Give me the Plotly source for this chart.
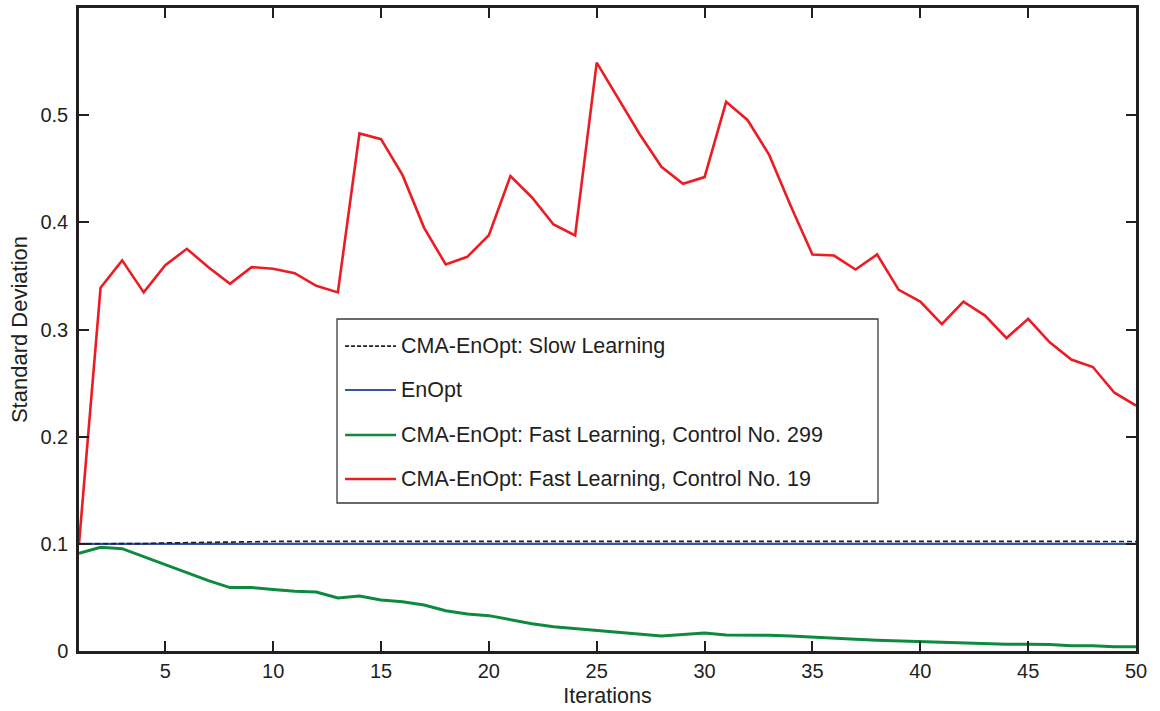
import plotly.graph_objects as go

# Iteration index
iterations = list(range(1, 51))

# Standard deviation of the control variables per iteration
slow_learning = [0.1000, 0.1000, 0.1000, 0.1002, 0.1008, 0.1012, 0.1016, 0.1018, 0.1020, 0.1022,
                 0.1023, 0.1023, 0.1023, 0.1023, 0.1023, 0.1023, 0.1023, 0.1023, 0.1023, 0.1023,
                 0.1023, 0.1023, 0.1023, 0.1023, 0.1023, 0.1023, 0.1023, 0.1023, 0.1023, 0.1023,
                 0.1023, 0.1023, 0.1023, 0.1023, 0.1023, 0.1023, 0.1023, 0.1024, 0.1027, 0.1028,
                 0.1026, 0.1023, 0.1022, 0.1022, 0.1022, 0.1022, 0.1022, 0.1022, 0.1022, 0.1022]

enopt = [0.1] * 50

fast_299 = [0.0911, 0.0967, 0.0955, 0.0880, 0.0802, 0.0730, 0.0656, 0.0592, 0.0592, 0.0573,
            0.0557, 0.0550, 0.0494, 0.0513, 0.0476, 0.0460, 0.0429, 0.0376, 0.0345, 0.0330,
            0.0289, 0.0255, 0.0227, 0.0209, 0.0193, 0.0177, 0.0162, 0.0141, 0.0153, 0.0168,
            0.0149, 0.0149, 0.0146, 0.0140, 0.0128, 0.0118, 0.0109, 0.0100, 0.0093, 0.0090,
            0.0081, 0.0072, 0.0062, 0.0062, 0.0062, 0.0060, 0.0050, 0.0050, 0.0040, 0.0040]

fast_19 = [0.1000, 0.3390, 0.3645, 0.3346, 0.3600, 0.3753, 0.3580, 0.3427, 0.3582, 0.3567,
           0.3526, 0.3408, 0.3346, 0.4829, 0.4776, 0.4440, 0.3949, 0.3607, 0.3678, 0.3880,
           0.4431, 0.4232, 0.3980, 0.3878, 0.5490, 0.5150, 0.4820, 0.4518, 0.4359, 0.4422,
           0.5124, 0.4953, 0.4627, 0.4150, 0.3700, 0.3690, 0.3560, 0.3700, 0.3370, 0.3260,
           0.3050, 0.3260, 0.3130, 0.2920, 0.3100, 0.2880, 0.2720, 0.2650, 0.2410, 0.2290]

x_ticks = [5, 10, 15, 20, 25, 30, 35, 40, 45, 50]
y_ticks = [0, 0.1, 0.2, 0.3, 0.4, 0.5]
y_tick_text = ["0", "0.1", "0.2", "0.3", "0.4", "0.5"]

series = [
    ("CMA-EnOpt: Slow Learning", slow_learning, "#231f20", 1.7, "dash"),
    ("EnOpt", enopt, "#3953a4", 2.2, "solid"),
    ("CMA-EnOpt: Fast Learning, Control No. 299", fast_299, "#0e8a3e", 3.0, "solid"),
    ("CMA-EnOpt: Fast Learning, Control No. 19", fast_19, "#ec1c24", 2.6, "solid"),
]

FONT = "Liberation Sans, Arial, sans-serif"
INK = "#231f20"

fig = go.Figure()
# draw order: red, green, blue, then the dashed line on top
for name, vals, color, width, dash in [series[3], series[2], series[1], series[0]]:
    fig.add_trace(go.Scatter(
        x=iterations, y=vals, mode="lines", name=name,
        line=dict(color=color, width=width, dash=dash if dash == "solid" else "5px,3px"),
        showlegend=False, hoverinfo="skip", cliponaxis=True,
    ))

# legend box drawn in paper coordinates
box_x0, box_x1 = 0.2441, 0.7559
box_y0, box_y1 = 0.2302, 0.5163
shapes = [dict(type="rect", xref="paper", yref="paper", x0=box_x0, x1=box_x1, y0=box_y0, y1=box_y1,
               line=dict(color="#3a3a3a", width=1.3), fillcolor="white", layer="above")]
annotations = []
row_y = [0.4743, 0.4059, 0.3359, 0.2675]
for (name, vals, color, width, dash), ry in zip(series, row_y):
    shapes.append(dict(type="line", xref="paper", yref="paper", x0=0.2517, x1=0.2999, y0=ry, y1=ry,
                       line=dict(color=color, width=min(width, 2.5),
                                 dash=dash if dash == "solid" else "4px,2px"),
                       layer="above"))
    annotations.append(dict(xref="paper", yref="paper", x=0.3030, y=ry, text=name, showarrow=False,
                            xanchor="left", yanchor="middle",
                            font=dict(family=FONT, size=21.5, color=INK)))

axis_common = dict(
    showline=True, linecolor=INK, linewidth=2.5, mirror="ticks",
    ticks="inside", ticklen=10, tickwidth=1.6, tickcolor=INK,
    showgrid=False, zeroline=False, automargin=False,
    tickfont=dict(family=FONT, size=20, color=INK),
)

fig.update_layout(
    width=1160, height=711,
    margin=dict(l=79, r=24, t=8, b=60),
    paper_bgcolor="white", plot_bgcolor="white",
    font=dict(family=FONT, size=20, color=INK),
    xaxis=dict(range=[1, 50], tickvals=x_ticks, ticklabelstandoff=0,
               title=dict(text="Iterations", standoff=8, font=dict(family=FONT, size=21.5, color=INK)),
               **axis_common),
    yaxis=dict(range=[0, 0.6], tickvals=y_ticks, ticktext=y_tick_text, ticklabelstandoff=4,
               title=dict(text="Standard Deviation", standoff=7, font=dict(family=FONT, size=22, color=INK)),
               **axis_common),
    shapes=shapes,
    annotations=annotations,
    showlegend=False,
)

fig.write_html("out.html")
